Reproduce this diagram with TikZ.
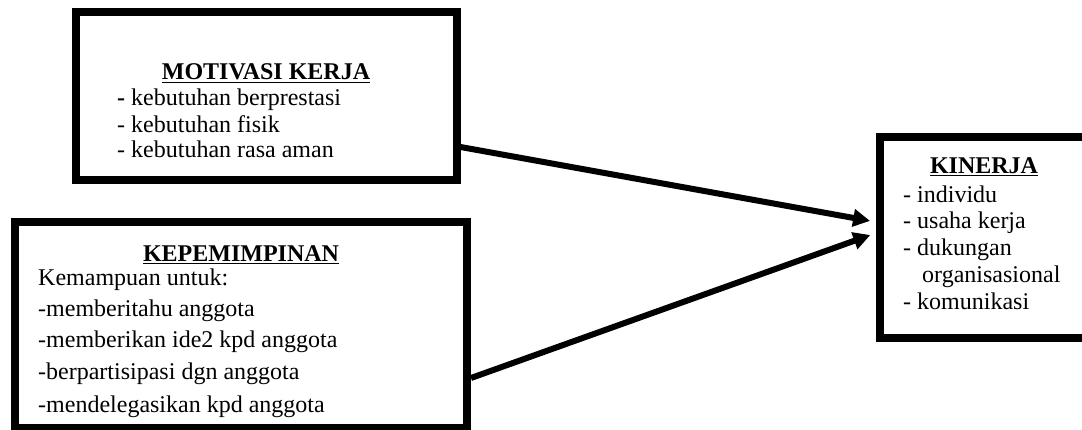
\documentclass[tikz,border=0pt]{standalone}
\usepackage{fontspec}
\setmainfont{Liberation Serif}
\usetikzlibrary{arrows.meta}
\begin{document}
\begin{tikzpicture}[x=1pt,y=-1pt,
  box/.style={draw=black, line width=8pt, inner sep=0pt, rectangle},
  txt/.style={anchor=base west, inner sep=0pt, font=\fontsize{24}{27}\selectfont},
  ttl/.style={anchor=base, inner sep=0pt, font=\fontsize{24}{27}\selectfont\bfseries},
  conn/.style={line width=6pt, -{Triangle[length=17pt,width=17pt]}, shorten >=6pt}]
\useasboundingbox (0,0) rectangle (1082,430);
\fill[white] (0,0) rectangle (1082,430);
% boxes
\node[box, minimum width=381pt, minimum height=168pt] (mot) at (266,96.5) {};
\node[box, minimum width=452.5pt, minimum height=205pt] (kep) at (240.75,325) {};
\node[box, minimum width=210pt, minimum height=201pt] (kin) at (985,238) {};
% motivasi text
\node[ttl] (motT) at (266,80) {\underline{MOTIVASI KERJA}};
\node[txt] (mot1) at (117,106) {\textbf{-} kebutuhan berprestasi};
\node[txt] (mot2) at (117,133) {- kebutuhan fisik};
\node[txt] (mot3) at (117,158) {- kebutuhan rasa aman};
% kepemimpinan text
\node[ttl] (kepT) at (241,262) {\underline{KEPEMIMPINAN}};
\node[txt] (kep0) at (38,286) {Kemampuan untuk:};
\node[txt] (kep1) at (38,317) {-memberitahu anggota};
\node[txt] (kep2) at (38,348) {-memberikan ide2 kpd anggota};
\node[txt] (kep3) at (38,380) {-berpartisipasi dgn anggota};
\node[txt] (kep4) at (38,412) {-mendelegasikan kpd anggota};
% kinerja text
\node[ttl] (kinT) at (984,174) {\underline{KINERJA}};
\node[txt] (kin1) at (903,203) {- individu};
\node[txt] (kin2) at (903,229) {- usaha kerja};
\node[txt] (kin3) at (903,256) {- dukungan};
\node[txt] (kin4) at (922,283) {organisasional};
\node[txt] (kin5) at (903,310) {- komunikasi};
% connectors
\draw[conn] ([yshift=-50.5pt]mot.east) -- ([yshift=16pt]kin.west);
\draw[conn] ([yshift=-53pt]kep.east) -- ([yshift=5pt]kin.west);
\end{tikzpicture}
\end{document}
